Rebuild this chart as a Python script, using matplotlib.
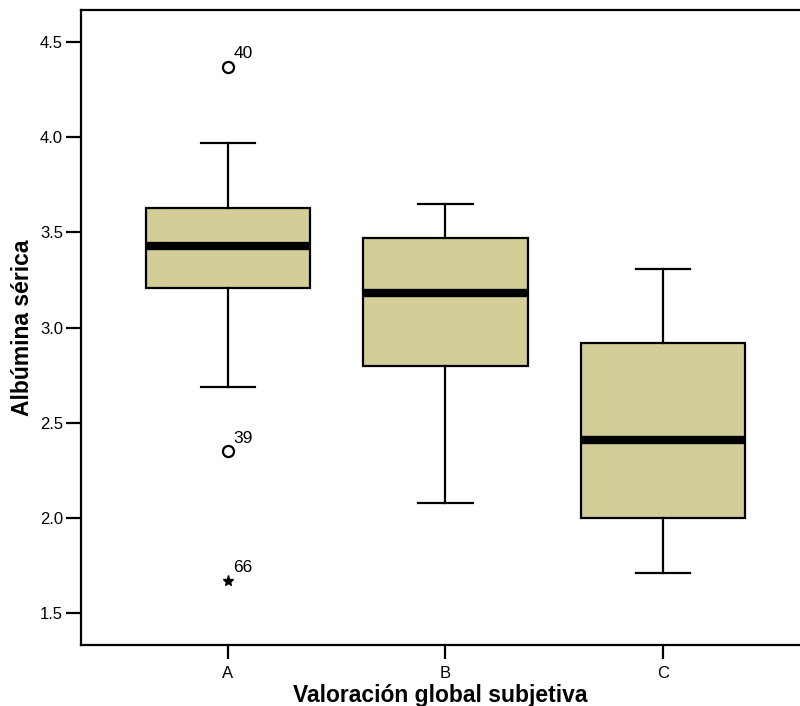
import matplotlib.pyplot as plt

plt.rcParams['font.family'] = ['Liberation Sans', 'DejaVu Sans']

grupos = ['A', 'B', 'C']
q1 = [3.21, 2.80, 2.00]
mediana = [3.43, 3.18, 2.41]
q3 = [3.63, 3.47, 2.92]
bigote_inf = [2.69, 2.08, 1.71]
bigote_sup = [3.97, 3.65, 3.31]

# Valores atipicos: grupo, valor, numero de caso, extremo (*) o no (o)
atip_grupo = [1, 1, 1]
atip_valor = [4.37, 2.35, 1.67]
atip_caso = ['40', '39', '66']
atip_extremo = [False, False, True]

color_caja = '#D3CD97'

stats = []
for i, g in enumerate(grupos):
    stats.append({
        'label': g,
        'q1': q1[i], 'med': mediana[i], 'q3': q3[i],
        'whislo': bigote_inf[i], 'whishi': bigote_sup[i],
        'fliers': [],
    })

fig = plt.figure(figsize=(8, 7.06), dpi=100)
ax = fig.add_axes([0.10125, 0.0864, 0.89875, 0.8994])

ax.bxp(stats, positions=[1, 2, 3], widths=0.755, patch_artist=True,
       showfliers=False,
       boxprops=dict(facecolor=color_caja, edgecolor='black', linewidth=1.6),
       medianprops=dict(color='black', linewidth=6, solid_capstyle='butt'),
       whiskerprops=dict(color='black', linewidth=1.6),
       capprops=dict(color='black', linewidth=1.6),
       capwidths=0.25)

# atipicos con su numero de caso
for g, v, caso, ext in zip(atip_grupo, atip_valor, atip_caso, atip_extremo):
    if ext:
        ax.plot(g, v, marker='*', color='black', markersize=8, linestyle='none')
    else:
        ax.plot(g, v, marker='o', markerfacecolor='white', markeredgecolor='black',
                markeredgewidth=1.6, markersize=8, linestyle='none')
    ax.annotate(caso, (g, v), xytext=(4, 4), textcoords='offset points',
                fontsize=12.5, ha='left', va='bottom')

ax.set_xlim(0.325, 3.63)
ax.set_ylim(1.332, 4.668)
ax.set_yticks([1.5, 2.0, 2.5, 3.0, 3.5, 4.0, 4.5])
ax.set_yticklabels(['1.5', '2.0', '2.5', '3.0', '3.5', '4.0', '4.5'])
ax.set_xticks([1, 2, 3])
ax.set_xticklabels(grupos)

for lado in ['left', 'bottom', 'top']:
    ax.spines[lado].set_linewidth(1.6)
ax.spines['right'].set_visible(False)

ax.tick_params(axis='y', length=11, width=1.6, labelsize=12, pad=2)
ax.tick_params(axis='x', length=10, width=1.6, labelsize=12, pad=5)

ax.set_xlabel('Valoración global subjetiva', fontsize=16.5, fontweight='bold', labelpad=2)
ax.set_ylabel('Albúmina sérica', fontsize=16.5, fontweight='bold', labelpad=4)

fig.savefig('out.png', dpi=100)
